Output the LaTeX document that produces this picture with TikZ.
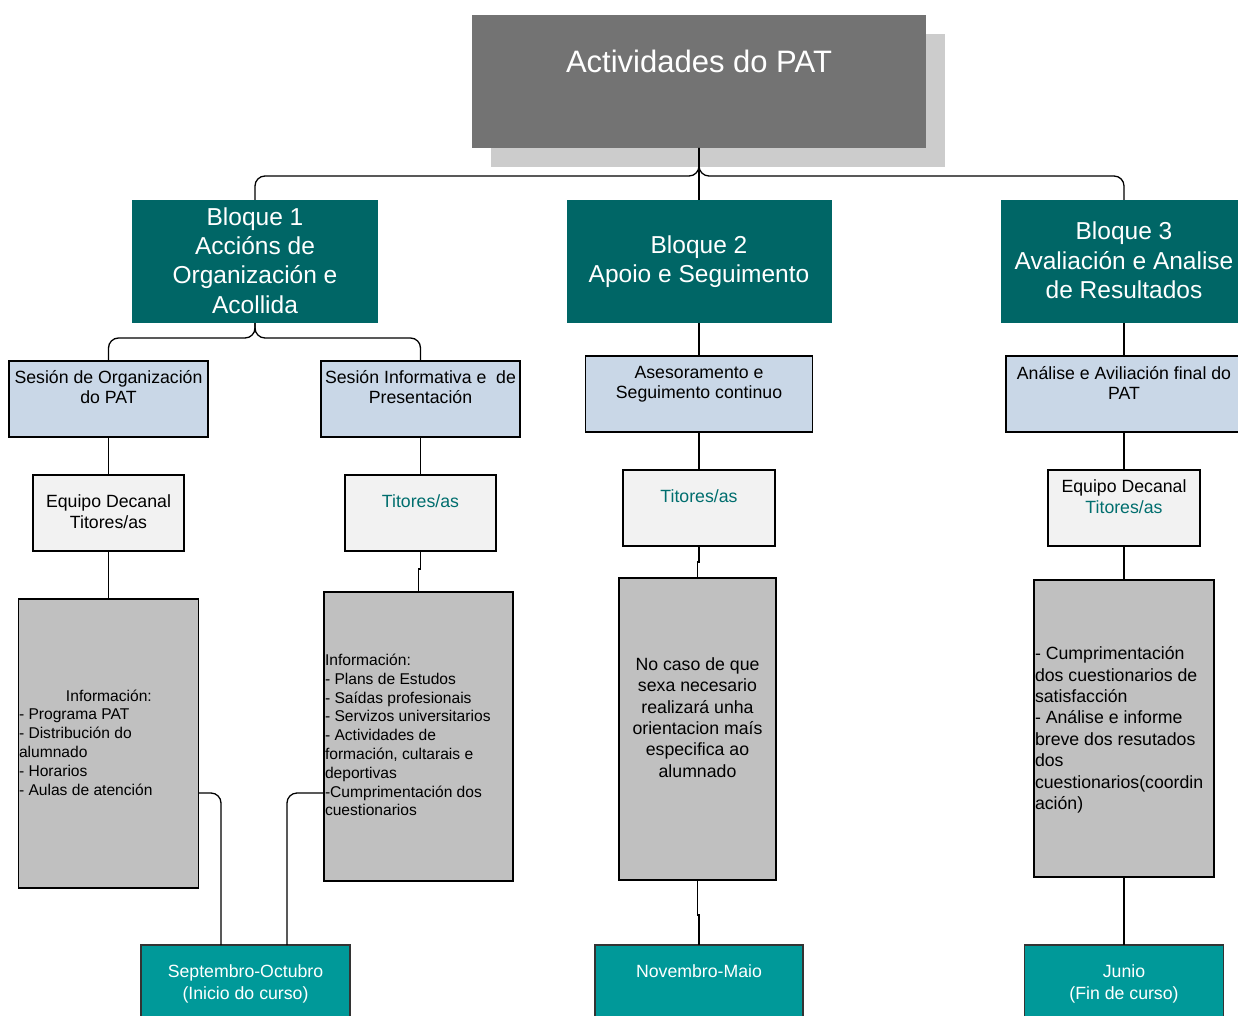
\documentclass[tikz,border=0pt]{standalone}
\usepackage{fontspec}
\setmainfont{Liberation Sans}
\usetikzlibrary{calc}
\definecolor{titlegray}{HTML}{737373}
\definecolor{shadowgray}{HTML}{CCCCCC}
\definecolor{bloqueteal}{HTML}{006666}
\definecolor{subblue}{HTML}{C9D7E7}
\definecolor{lightbox}{HTML}{F2F2F2}
\definecolor{midgray}{HTML}{C0C0C0}
\definecolor{bottomteal}{HTML}{009999}
\definecolor{tealtext}{HTML}{006E6E}
\begin{document}
\begin{tikzpicture}[x=1pt,y=-1pt,
  plain/.style={rectangle, inner sep=0pt, outer sep=0pt},
  shadowbox/.style={plain, fill=shadowgray, minimum width=454pt, minimum height=133pt},
  rootbox/.style={plain, fill=titlegray, minimum width=454pt, minimum height=133pt},
  bloquebox/.style={plain, fill=bloqueteal, minimum height=123pt},
  subbox/.style={plain, fill=subblue, draw=black, line width=1.4pt, minimum height=76pt},
  whobox/.style={plain, fill=lightbox, draw=black, line width=1.4pt, minimum height=76pt},
  infobox/.style={plain, fill=midgray, draw=black, line width=1.4pt},
  datebox/.style={plain, fill=bottomteal, draw=black!80, line width=1.3pt, minimum height=90pt},
  conn/.style={draw=black, line width=1.3pt, rounded corners=10pt},
  txt/.style={inner sep=0pt, outer sep=0pt, align=center, font=\fontsize{17.7}{20.5}\selectfont},
  bigtxt/.style={inner sep=0pt, outer sep=0pt, align=center, text=white, font=\fontsize{24.5}{29.3}\selectfont},
  smalltxt/.style={inner sep=0pt, outer sep=0pt, align=left, font=\fontsize{15.6}{18.8}\selectfont},
  midtxt/.style={inner sep=0pt, outer sep=0pt, font=\fontsize{17.7}{21.4}\selectfont},
  datetxt/.style={inner sep=0pt, outer sep=0pt, align=center, text=white, font=\fontsize{17.7}{22}\selectfont}
]
\useasboundingbox (0,0) rectangle (1238,1016);

% title
\node[shadowbox] (shadow) at (718,100.5) {};
\node[rootbox] (root) at (699,81.5) {};
\node[inner sep=0pt, text=white, font=\fontsize{31}{36}\selectfont] (roottxt) at (699,61) {Actividades do PAT};

% bloques
\node[bloquebox, minimum width=246pt] (b1) at (255,261.5) {};
\node[bigtxt] (b1t) at (255,260.5) {Bloque 1\\Accións de\\Organización e\\Acollida};
\node[bloquebox, minimum width=265pt] (b2) at (699,261.5) {};
\node[bigtxt] (b2t) at (699,262) {Bloque 2\\Apoio e Seguimento};
\node[bloquebox, minimum width=246pt] (b3) at (1124,261.5) {};
\node[bigtxt] (b3t) at (1124,260.5) {Bloque 3\\Avaliación e Analise\\de Resultados};

% sessions
\node[subbox, minimum width=199pt] (s1) at (108.5,399) {};
\node[txt] (s1t) at (108.5,387) {Sesión de Organización\\do PAT};
\node[subbox, minimum width=199pt] (s2) at (420.5,399) {};
\node[txt] (s2t) at (420.5,387) {Sesión Informativa e\ \ de\\Presentación};
\node[subbox, minimum width=227pt] (s3) at (699,394) {};
\node[txt] (s3t) at (699,384) {Asesoramento e\\Seguimento continuo};
\node[subbox, minimum width=236pt] (s4) at (1124,394) {};
\node[txt] (s4t) at (1124,383) {Análise e Aviliación final do\\PAT};

% who
\node[whobox, minimum width=151pt] (e1) at (108.5,513) {};
\node[txt] (e1t) at (108.5,511.5) {Equipo Decanal\\Titores/as};
\node[whobox, minimum width=151pt] (t2) at (420.5,513) {};
\node[txt, text=tealtext] (t2t) at (420.5,501) {Titores/as};
\node[whobox, minimum width=152pt] (t3) at (699,508) {};
\node[txt, text=tealtext] (t3t) at (699,496) {Titores/as};
\node[whobox, minimum width=152pt] (e4) at (1124,508) {};
\node[txt] (e4t) at (1124,496.5) {Equipo Decanal\\\textcolor{tealtext}{Titores/as}};

% info boxes
\node[infobox, minimum width=180pt, minimum height=289pt] (g1) at (108.5,743.5) {};
\node[smalltxt, anchor=west] (g1t) at (19,742.5) {\hspace*{47pt}Información:\\- Programa PAT\\- Distribución do\\alumnado\\- Horarios\\- Aulas de atención};
\node[infobox, minimum width=189pt, minimum height=289pt] (g2) at (418.5,736.5) {};
\node[smalltxt, anchor=west] (g2t) at (325,735) {Información:\\- Plans de Estudos\\- Saídas profesionais\\- Servizos universitarios\\- Actividades de\\formación, cultarais e\\deportivas\\-Cumprimentación dos\\cuestionarios};
\node[infobox, minimum width=157pt, minimum height=302pt] (g3) at (697.5,729) {};
\node[midtxt, align=center] (g3t) at (697.5,717.5) {No caso de que\\sexa necesario\\realizará unha\\orientacion maís\\especifica ao\\alumnado};
\node[infobox, minimum width=180pt, minimum height=297pt] (g4) at (1124,728.5) {};
\node[midtxt, align=left, anchor=west] (g4t) at (1035,730) {- Cumprimentación\\dos cuestionarios de\\satisfacción\\- Análise e informe\\breve dos resutados\\dos\\cuestionarios(coordin\\ación)};

% dates
\node[datebox, minimum width=209pt] (bt1) at (245.5,990) {};
\node[datetxt] (bt1t) at (245.5,984) {Septembro-Octubro\\(Inicio do curso)};
\node[datebox, minimum width=208pt] (bt2) at (699,990) {};
\node[datetxt] (bt2t) at (699,971) {Novembro-Maio};
\node[datebox, minimum width=199pt] (bt3) at (1124,990) {};
\node[datetxt] (bt3t) at (1124,984) {Junio\\(Fin de curso)};

% connectors
\draw[conn] (root.south) -- (b2.north);
\draw[conn] (root.south) -- ++(0,28) -| (b1.north);
\draw[conn] (root.south) -- ++(0,28) -| (b3.north);
\draw[conn] (b1.south) -- ++(0,15) -| (s1.north);
\draw[conn] (b1.south) -- ++(0,15) -| (s2.north);
\draw[conn] (b2.south) -- (s3.north);
\draw[conn] (b3.south) -- (s4.north);
\draw[conn] (s1.south) -- (e1.north);
\draw[conn] (s2.south) -- (t2.north);
\draw[conn] (s3.south) -- (t3.north);
\draw[conn] (s4.south) -- (e4.north);
\draw[conn] (e1.south) -- (g1.north);
\draw[conn, rounded corners=0pt] (t2.south) -- ++(0,18) -| (g2.north);
\draw[conn, rounded corners=0pt] (t3.south) -- ++(0,16) -| (g3.north);
\draw[conn] (e4.south) -- (g4.north);
\draw[conn] ([yshift=-49.5pt]g1.east) -| ([xshift=-24.5pt]bt1.north);
\draw[conn] ([yshift=-56.5pt]g2.west) -| ([xshift=41.5pt]bt1.north);
\draw[conn, rounded corners=0pt] (g3.south) -- ++(0,35) -| (bt2.north);
\draw[conn] (g4.south) -- (bt3.north);
\end{tikzpicture}
\end{document}
